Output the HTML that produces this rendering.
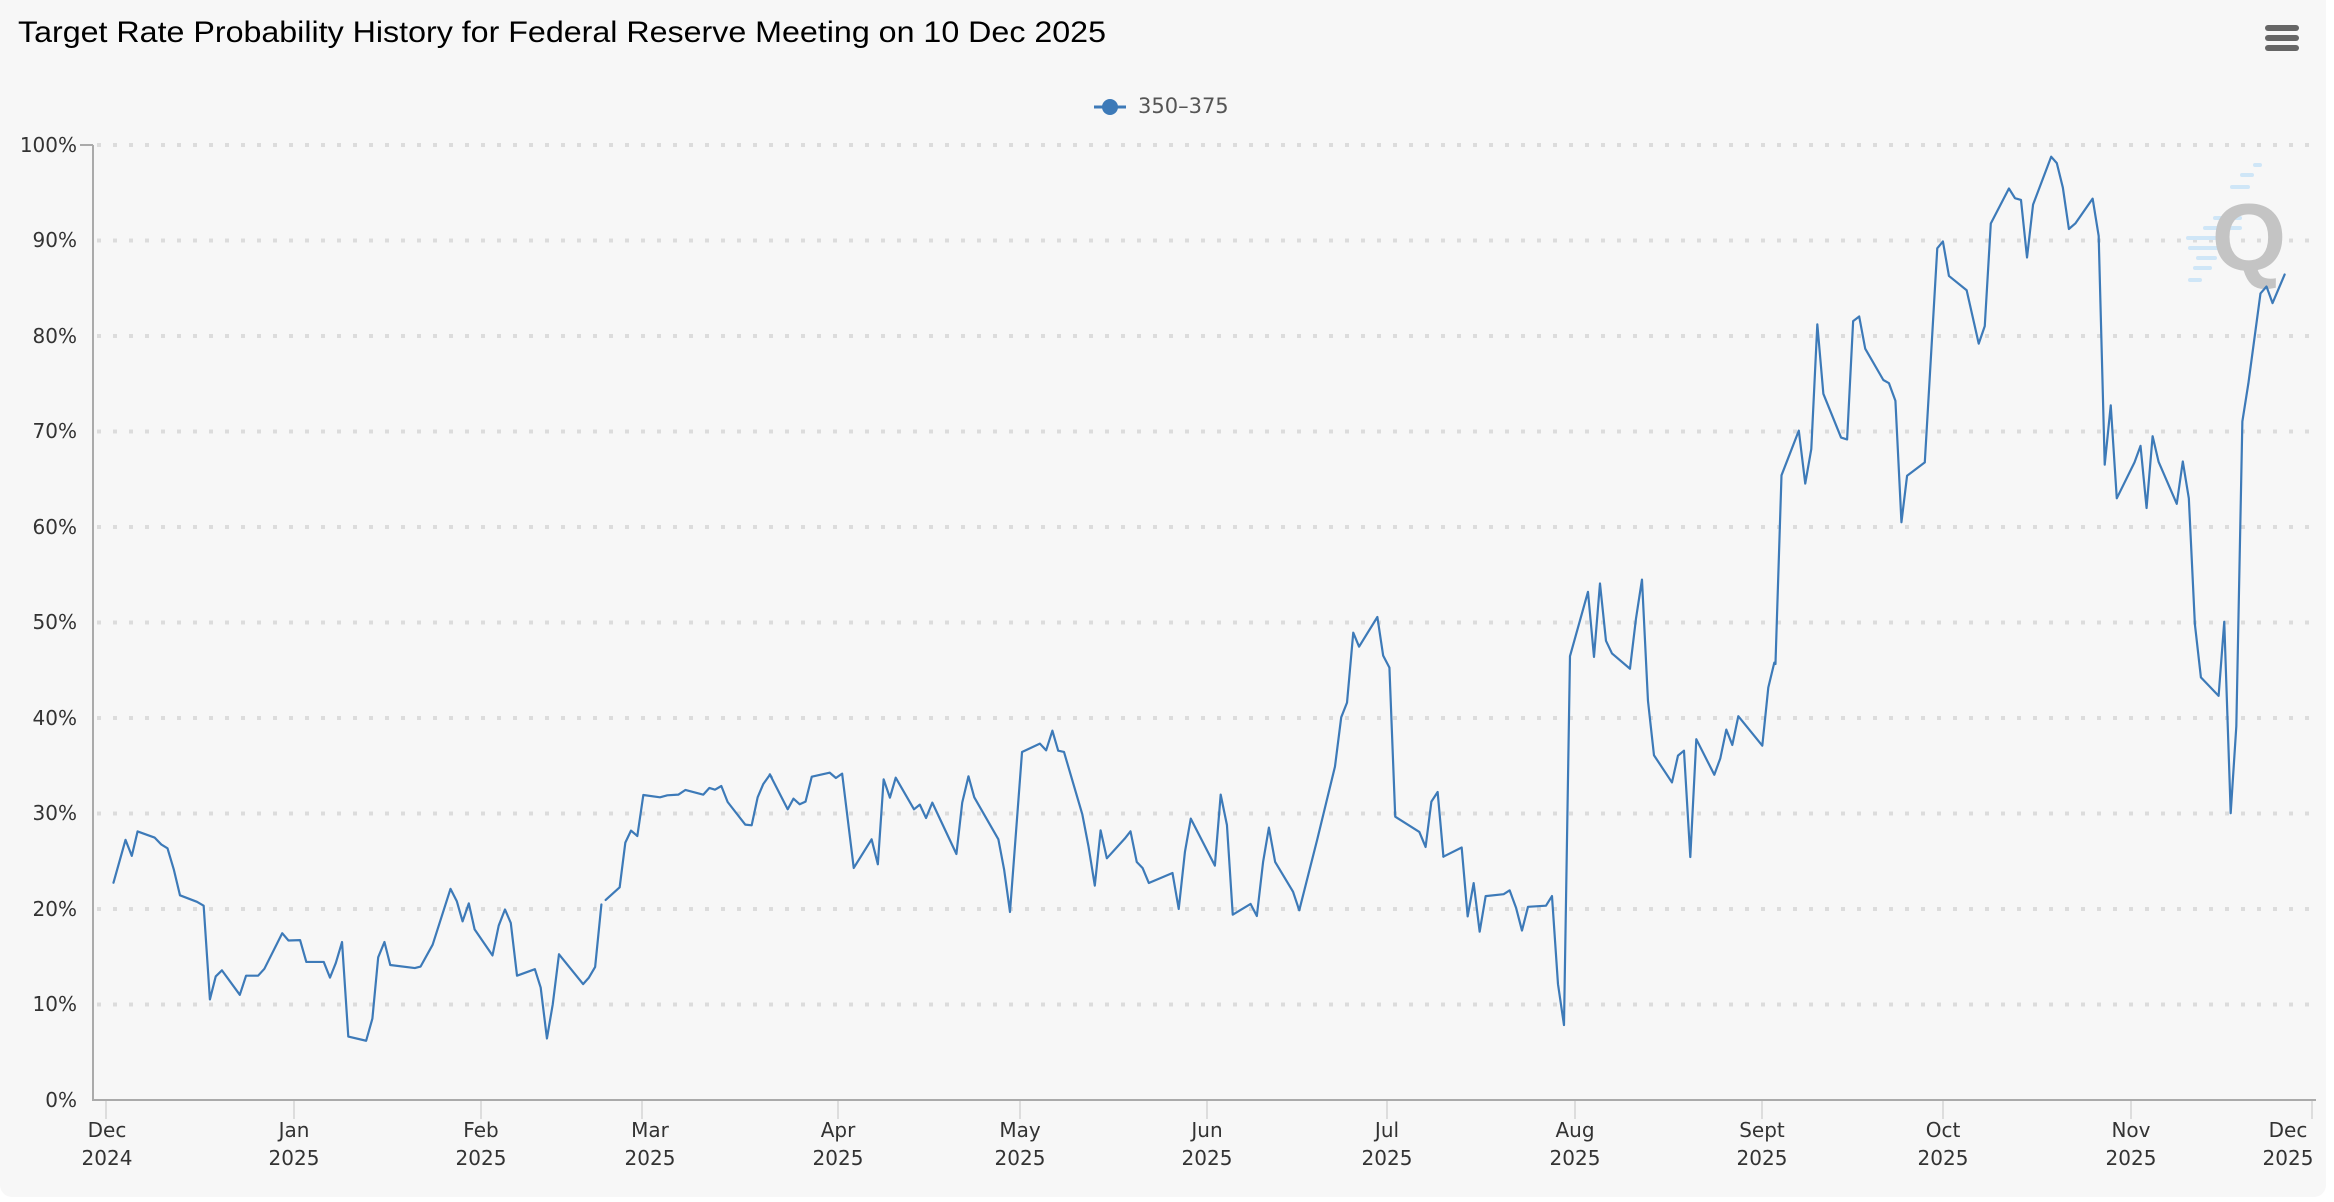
<!DOCTYPE html>
<html><head><meta charset="utf-8"><style>
html,body{margin:0;padding:0;background:#fff;}
svg{display:block;}
</style></head><body>
<svg width="2334" height="1202" viewBox="0 0 2334 1202" xmlns="http://www.w3.org/2000/svg">
<rect x="0" y="-20" width="2326" height="1217" rx="12" fill="#f7f7f7"/>
<text x="18" y="42" font-family="Liberation Sans, Arial, sans-serif" font-size="30" fill="#000" textLength="1088" lengthAdjust="spacingAndGlyphs">Target Rate Probability History for Federal Reserve Meeting on 10 Dec 2025</text>
<g fill="#666"><rect x="2265" y="25" width="34" height="6" rx="3"/><rect x="2265" y="35" width="34" height="6" rx="3"/><rect x="2265" y="45" width="34" height="6" rx="3"/></g>
<line x1="1094" y1="107" x2="1126" y2="107" stroke="#3d7ab8" stroke-width="3"/>
<circle cx="1110" cy="107" r="8" fill="#3d7ab8"/>
<text x="1138" y="113" font-family="DejaVu Sans, sans-serif" font-size="21" fill="#555">350–375</text>
<g stroke="#dcdcdc" stroke-width="4" stroke-dasharray="4 12">
<line x1="97" y1="145" x2="2316" y2="145"/><line x1="97" y1="240.5" x2="2316" y2="240.5"/><line x1="97" y1="336" x2="2316" y2="336"/><line x1="97" y1="431.5" x2="2316" y2="431.5"/><line x1="97" y1="527" x2="2316" y2="527"/><line x1="97" y1="622.5" x2="2316" y2="622.5"/><line x1="97" y1="718" x2="2316" y2="718"/><line x1="97" y1="813.5" x2="2316" y2="813.5"/><line x1="97" y1="909" x2="2316" y2="909"/><line x1="97" y1="1004.5" x2="2316" y2="1004.5"/>
</g>
<g font-family="DejaVu Sans, sans-serif" font-size="20" fill="#333" text-anchor="end">
<text x="77" y="152">100%</text><text x="77" y="247">90%</text><text x="77" y="343">80%</text><text x="77" y="438">70%</text><text x="77" y="534">60%</text><text x="77" y="629">50%</text><text x="77" y="725">40%</text><text x="77" y="820">30%</text><text x="77" y="916">20%</text><text x="77" y="1011">10%</text><text x="77" y="1107">0%</text>
</g>
<line x1="93" y1="145" x2="93" y2="1101" stroke="#aaa" stroke-width="2"/>
<line x1="80" y1="145" x2="93" y2="145" stroke="#aaa" stroke-width="2"/>
<line x1="92" y1="1100" x2="2316" y2="1100" stroke="#aaa" stroke-width="2"/>
<g stroke="#ddd" stroke-width="2">
<line x1="106" y1="1101" x2="106" y2="1119"/><line x1="294" y1="1101" x2="294" y2="1119"/><line x1="481" y1="1101" x2="481" y2="1119"/><line x1="642" y1="1101" x2="642" y2="1119"/><line x1="838" y1="1101" x2="838" y2="1119"/><line x1="1020" y1="1101" x2="1020" y2="1119"/><line x1="1207" y1="1101" x2="1207" y2="1119"/><line x1="1387" y1="1101" x2="1387" y2="1119"/><line x1="1575" y1="1101" x2="1575" y2="1119"/><line x1="1762" y1="1101" x2="1762" y2="1119"/><line x1="1943" y1="1101" x2="1943" y2="1119"/><line x1="2131" y1="1101" x2="2131" y2="1119"/><line x1="2312" y1="1101" x2="2312" y2="1119"/>
</g>
<g font-family="DejaVu Sans, sans-serif" font-size="20" fill="#333" text-anchor="middle">
<text x="107" y="1137">Dec</text><text x="107" y="1165">2024</text>
<text x="294" y="1137">Jan</text><text x="294" y="1165">2025</text>
<text x="481" y="1137">Feb</text><text x="481" y="1165">2025</text>
<text x="650" y="1137">Mar</text><text x="650" y="1165">2025</text>
<text x="838" y="1137">Apr</text><text x="838" y="1165">2025</text>
<text x="1020" y="1137">May</text><text x="1020" y="1165">2025</text>
<text x="1207" y="1137">Jun</text><text x="1207" y="1165">2025</text>
<text x="1387" y="1137">Jul</text><text x="1387" y="1165">2025</text>
<text x="1575" y="1137">Aug</text><text x="1575" y="1165">2025</text>
<text x="1762" y="1137">Sept</text><text x="1762" y="1165">2025</text>
<text x="1943" y="1137">Oct</text><text x="1943" y="1165">2025</text>
<text x="2131" y="1137">Nov</text><text x="2131" y="1165">2025</text>
<text x="2288" y="1137">Dec</text><text x="2288" y="1165">2025</text>
</g>
<g stroke="#cfe6f7" stroke-width="4" stroke-linecap="round">
<line x1="2255" y1="165" x2="2260" y2="165"/><line x1="2242" y1="175" x2="2252" y2="175"/><line x1="2232" y1="187" x2="2248" y2="187"/><line x1="2215" y1="218" x2="2240" y2="218"/><line x1="2205" y1="228" x2="2240" y2="228"/><line x1="2188" y1="238" x2="2225" y2="238"/><line x1="2190" y1="248" x2="2220" y2="248"/><line x1="2198" y1="258" x2="2215" y2="258"/><line x1="2195" y1="268" x2="2210" y2="268"/><line x1="2190" y1="280" x2="2200" y2="280"/>
</g>
<text x="2249" y="270" font-family="Liberation Sans, sans-serif" font-weight="bold" font-size="96" fill="#c4c4c4" text-anchor="middle">Q</text>
<g fill="none" stroke="#3d7ab8" stroke-width="2.2" stroke-linejoin="round" stroke-linecap="round">
<polyline vector-effect="non-scaling-stroke" transform="translate(80,500) scale(0.4464,0.3827)" points="75,1000 102,888 116,930 129,866 167,882 182,900 196,910 210,965 224,1033 262,1050 277,1060 291,1305 304,1245 318,1229 358,1293 372,1243 399,1243 413,1225 453,1132 467,1151 493,1150 507,1207 546,1207 560,1248 573,1210 587,1155 601,1402 641,1413 655,1355 668,1195 682,1155 695,1215 750,1223 763,1219 790,1162 830,1016 844,1048 857,1101 871,1054 884,1122 924,1190 938,1112 952,1070 965,1105 979,1243 1019,1226 1032,1274 1046,1407 1059,1318 1073,1187 1127,1265 1140,1248 1154,1220 1168,1057"/>
<polyline vector-effect="non-scaling-stroke" transform="translate(590,700) scale(0.3333)" points="47,600 89,562 106,428 123,392 142,408 160,285 210,292 232,286 265,284 286,270 340,284 358,264 375,269 394,258 413,306 466,374 485,376 503,292 520,252 540,224 545,232"/>
<polyline vector-effect="non-scaling-stroke" transform="translate(760,580) scale(0.4464,0.3333)" points="22,583 62,688 75,656 89,673 102,665 116,590 156,578 170,594 184,581 210,864 250,778 264,853 277,598 291,653 304,593 345,688 358,674 372,714 386,668 440,822 453,668 467,589 480,652 534,778 547,870 560,996 587,516 627,491 641,511 655,452 668,512 681,516 722,703 736,800 750,917 763,751 777,835 817,776 830,754 844,846 857,864 871,909 924,879 938,987 952,815 965,716 1019,857 1032,644 1046,735 1059,1004 1099,972 1113,1008 1127,846 1140,743 1154,846 1194,935 1208,991 1248,780 1288,560 1302,412 1315,368 1329,158 1342,200 1383,111 1396,227 1410,263 1423,710 1477,756 1491,801 1504,665 1518,636 1531,830"/>
<polyline vector-effect="non-scaling-stroke" transform="translate(1440,500) scale(0.3333,0.3827)" points="10,932 65,908 83,1088 101,1001 119,1128 137,1035 191,1030 209,1020 228,1065 246,1125 264,1063 318,1060 336,1035 354,1265 372,1372 390,408 444,240 462,410 480,218 498,368 516,401 570,441 588,310 606,208 624,525 642,667 696,738 714,668 732,655 751,933 769,625 823,718 841,675 859,600 877,640 895,565 967,642 985,490 1003,425"/>
<polyline vector-effect="non-scaling-stroke" transform="translate(1701,130) scale(0.4025,0.4604)" points="185,1160 200,750 243,653 259,768 274,693 289,422 304,573 348,668 363,672 378,415 393,405 408,475 453,543 467,550 483,588 498,852 512,751 556,722 587,257 601,242 616,317 660,348 690,464 705,426 720,203 765,127 780,148 795,152 810,277 825,162 870,58 884,72 899,125 914,215 930,203 973,149 988,230 1003,727 1018,598 1033,800 1077,722 1092,686 1107,821 1122,665 1137,721 1182,812 1197,720 1212,800 1227,1073 1242,1189 1286,1229 1300,1068 1316,1484 1330,1295 1345,633 1360,550 1390,355 1405,340 1420,376 1450,314"/>
</g>
</svg>
</body></html>
